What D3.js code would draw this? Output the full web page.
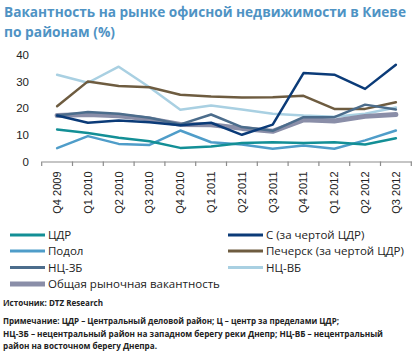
<!DOCTYPE html>
<html><head><meta charset="utf-8">
<script src="https://cdn.jsdelivr.net/npm/d3@7"></script>
<style>
body{margin:0;background:#fff;}
svg{display:block;font-family:"Open Sans","Noto Sans",sans-serif;}
</style></head><body>
<svg id="c" width="413" height="356"></svg>
<script>
const categories = ["Q4 2009","Q1 2010","Q2 2010","Q3 2010","Q4 2010","Q1 2011","Q2 2011","Q3 2011","Q4 2011","Q1 2012","Q2 2012","Q3 2012"];
const cdr      = [12.0,10.7,8.9,7.6,5.1,5.6,6.9,7.2,6.9,7.2,6.4,8.7];
const podol    = [5.0,9.5,6.6,6.2,11.6,7.2,6.4,4.8,6.0,4.8,7.9,11.6];
const ncZB     = [17.2,18.5,17.9,16.4,13.9,17.6,12.9,11.5,16.6,16.6,21.3,19.5];
const overall  = [17.2,17.6,17.1,15.9,13.9,13.8,12.4,11.3,15.6,15.2,16.9,17.6];
const sCdr     = [17.2,14.5,15.4,14.7,13.6,14.5,10.0,13.8,33.1,32.5,27.2,36.2];
const pechersk = [20.7,30.0,28.3,27.8,25.0,24.3,24.0,24.1,24.6,19.7,19.7,22.2];
const ncVB     = [32.5,29.5,35.5,27.8,19.4,21.0,19.5,17.9,17.2,16.8,17.9,20.2];
const yTicks   = [0,10,20,30,40];
const seriesNames = ["ЦДР","Подол","НЦ-ЗБ","Общая рыночная вакантность","С (за чертой ЦДР)","Печерск (за чертой ЦДР)","НЦ-ВБ"];

const series = [
  {name:seriesNames[0], values:cdr, color:"#138f96", w:2.5},
  {name:seriesNames[1], values:podol, color:"#4f9dc9", w:2.5},
  {name:seriesNames[2], values:ncZB, color:"#4c6d8c", w:2.5},
  {name:seriesNames[3], values:overall, color:"#8a8ea8", w:5},
  {name:seriesNames[4], values:sCdr, color:"#0b3b78", w:2.5},
  {name:seriesNames[5], values:pechersk, color:"#6e5c40", w:2.5},
  {name:seriesNames[6], values:ncVB, color:"#a9d0e2", w:2.5}
];
const drawOrder = [6,5,3,2,1,0,4];

const svg = d3.select("#c");
const titleColor = "#4f93c4";
svg.append("text").attr("x",4).attr("y",17).attr("fill",titleColor)
  .attr("font-size",13.5).attr("font-weight","bold")
  .attr("textLength",402).attr("lengthAdjust","spacingAndGlyphs")
  .text("Вакантность на рынке офисной недвижимости в Киеве");
svg.append("text").attr("x",4).attr("y",37).attr("fill",titleColor)
  .attr("font-size",13.5).attr("font-weight","bold")
  .attr("textLength",111).attr("lengthAdjust","spacingAndGlyphs")
  .text("по районам (%)");

const x = d3.scaleBand().domain(categories).range([41.7,411.3]);
const y = d3.scaleLinear().domain([0,40]).range([161.5,54.7]);

const yAxis = d3.axisLeft(y).tickValues(yTicks).tickSize(0).tickPadding(0);
const gy = svg.append("g").attr("transform","translate(29,0)").call(yAxis);
gy.select(".domain").remove();
gy.selectAll("text").attr("font-size",11.5).attr("fill","#222").attr("font-family","'Liberation Sans',Arial,sans-serif");

const xAxis = d3.axisBottom(x).tickSize(0).tickPadding(0);
const gx = svg.append("g").attr("transform","translate(0,161.5)").call(xAxis);
gx.select(".domain").attr("stroke","#8c8c8c").attr("stroke-width",1.2);
gx.selectAll("text").attr("font-size",11).attr("fill","#222")
  .attr("font-family","'Liberation Sans',Arial,sans-serif")
  .attr("transform","rotate(-90)").attr("text-anchor","end")
  .attr("x",-10).attr("y",0).attr("dy","0.35em");
const bounds = categories.map(c=>x(c)).concat([x.range()[1]]);
gx.selectAll("line.bt").data(bounds).join("line").attr("class","bt")
  .attr("x1",d=>d).attr("x2",d=>d).attr("y1",0).attr("y2",4.5)
  .attr("stroke","#8c8c8c").attr("stroke-width",1.2);

const line = d3.line().x((d,i)=>x(categories[i])+x.bandwidth()/2).y(d=>y(d));
drawOrder.forEach(k=>{
  const s = series[k];
  svg.append("path").attr("d",line(s.values)).attr("fill","none")
    .attr("stroke",s.color).attr("stroke-width",s.w)
    .attr("stroke-linejoin","round").attr("stroke-linecap","round");
});

const legendPos = [[10,235],[10,251],[10,267.5],[10,284],[228,235],[228,251],[228,267.5]];
series.forEach((s,i)=>{
  const [lx,ly] = legendPos[i];
  const g = svg.append("g");
  g.append("line").attr("x1",lx).attr("x2",lx+35).attr("y1",ly).attr("y2",ly)
    .attr("stroke",s.color).attr("stroke-width",s.w===5?5:3);
  g.append("text").attr("x",lx+38).attr("y",ly).attr("dy","0.35em")
    .attr("font-size",11.5).attr("fill","#222").text(s.name);
});

const foot = [
  {t:"Источник: DTZ Research", y:306, w:100},
  {t:"Примечание: ЦДР – Центральный деловой район; Ц – центр за пределами ЦДР;", y:324, w:336},
  {t:"НЦ-ЗБ – нецентральный район на западном берегу реки Днепр; НЦ-ВБ – нецентральный", y:336.5, w:380},
  {t:"район на восточном берегу Днепра.", y:349, w:154}
];
foot.forEach(f=>{
  svg.append("text").attr("x",3).attr("y",f.y).attr("font-size",8.8).attr("font-weight","bold")
    .attr("textLength",f.w).attr("lengthAdjust","spacingAndGlyphs")
    .attr("fill","#222").text(f.t);
});
</script>
</body></html>
